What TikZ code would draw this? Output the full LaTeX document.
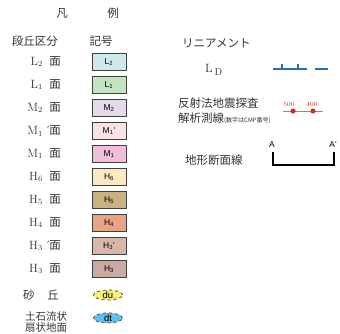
\documentclass[tikz,border=0pt]{standalone}
\usepackage{fontspec}
\newfontfamily\jp{Noto Sans CJK JP}
\newfontfamily\kigosans{Liberation Sans}
\usetikzlibrary{shapes.geometric}

% couleurs des surfaces
\definecolor{cLtwo}{HTML}{CDE9EC}
\definecolor{cLone}{HTML}{C4E3C2}
\definecolor{cMtwo}{HTML}{E7D9EC}
\definecolor{cMoneP}{HTML}{F9E3E3}
\definecolor{cMone}{HTML}{F1BDD9}
\definecolor{cHsix}{HTML}{FBE9C3}
\definecolor{cHfive}{HTML}{C9B183}
\definecolor{cHfour}{HTML}{E9A385}
\definecolor{cHthreeP}{HTML}{D9B6AA}
\definecolor{cHthree}{HTML}{CBAAA2}
\definecolor{cdu}{HTML}{F6EE78}
\definecolor{cdt}{HTML}{62BEEE}
\definecolor{ldblue}{HTML}{2B6CB0}
\definecolor{seisred}{HTML}{D42A2A}

\tikzset{
  kigo/.style={draw=black!75, line width=0.8pt, minimum width=34pt,
    minimum height=17pt, inner sep=0pt, font=\kigosans\fontsize{8.5}{9}\selectfont},
  midashi/.style={inner sep=0pt, text=black!80, font=\jp\fontsize{11.5}{12}\selectfont},
  dankyu/.style={inner sep=0pt, text=black!80, font=\fontsize{12}{12}\selectfont},
  sakyu/.style={ellipse, draw=black!70, dashed, line width=0.8pt, inner sep=0pt,
    minimum width=29pt, minimum height=10pt, font=\kigosans\fontsize{9.5}{9}\selectfont}
}

\begin{document}
\begin{tikzpicture}[x=1pt,y=-1pt]
\useasboundingbox (0,0) rectangle (340,334);

% Titre
\node[midashi] (han) at (62,13) {凡};
\node[midashi] (rei) at (113,13) {例};
\node[midashi] (kubun) at (35,41) {段丘区分};
\node[midashi] (kigo) at (101,41) {記号};

% Surfaces
\foreach \i/\ltr/\nb/\pl/\pb/\col in {
0/L/2/{}/{}/cLtwo,
1/L/1/{}/{}/cLone,
2/M/2/{}/{}/cMtwo,
3/M/1/{\rlap{\,´}}/{'}/cMoneP,
4/M/1/{}/{}/cMone,
5/H/6/{}/{}/cHsix,
6/H/5/{}/{}/cHfive,
7/H/4/{}/{}/cHfour,
8/H/3/{\rlap{\,´}}/{'}/cHthreeP,
9/H/3/{}/{}/cHthree%
}
{
\node[dankyu, anchor=east] (lab\i) at (43,62+23*\i) {\ltr\textsubscript{\nb}\pl};
\node[midashi] (men\i) at (55,62+23*\i) {面};
\node[kigo, fill=\col] (box\i) at (109,62+23*\i) {\ltr\textsubscript{\nb}\pb};
}

% Dunes et cones
\node[midashi] (suna) at (29,295) {砂};
\node[midashi] (oka) at (53,295) {丘};
\node[sakyu, fill=cdu] (du) at (108,295) {du};
\node[inner sep=0pt, text=black!80, align=left, font=\jp\fontsize{10.5}{11}\selectfont]
  (doseki) at (46,322) {土石流状\\扇状地面};
\node[sakyu, fill=cdt] (dt) at (108,318) {dt};

% Lineament
\node[midashi, anchor=west] (lin) at (182,43) {リニアメント};
\node[dankyu, anchor=west] (ld) at (205,70) {L\,\raisebox{-3pt}{\fontsize{10}{10}\selectfont D}};
\draw[ldblue, line width=2pt] (273,69) -- (307,69);
\draw[ldblue, line width=1.2pt] (282,69) -- (282,64);
\draw[ldblue, line width=1.2pt] (298,69) -- (298,64);
\draw[ldblue, line width=2pt] (315,69) -- (328,69);

% Ligne sismique
\node[midashi, anchor=west] (hansha) at (178,103) {反射法地震探査};
\node[midashi, anchor=west] (kaiseki) at (178,118)
  {解析測線{\fontsize{6}{6}\selectfont (数字はCMP番号)}};
\draw[seisred!70, line width=0.6pt] (283,111) -- (323,111);
\fill[seisred] (293,111) circle (2.6);
\fill[seisred] (313,111) circle (2.6);
\node[inner sep=0pt, text=seisred, font=\fontsize{6.5}{7}\selectfont] (cmpa) at (289,104) {500};
\node[inner sep=0pt, text=seisred, font=\fontsize{6.5}{7}\selectfont] (cmpb) at (312,104) {400};

% Profil
\node[midashi, anchor=west] (chikei) at (185,160) {地形断面線};
\node[inner sep=0pt, font=\kigosans\fontsize{8.5}{8}\selectfont] (pa) at (272,145) {A};
\node[inner sep=0pt, font=\kigosans\fontsize{8.5}{8}\selectfont] (pb) at (333,145) {A'};
\draw[line width=1.6pt] (273,152) -- (273,165) -- (334,165) -- (334,152);

\end{tikzpicture}
\end{document}
